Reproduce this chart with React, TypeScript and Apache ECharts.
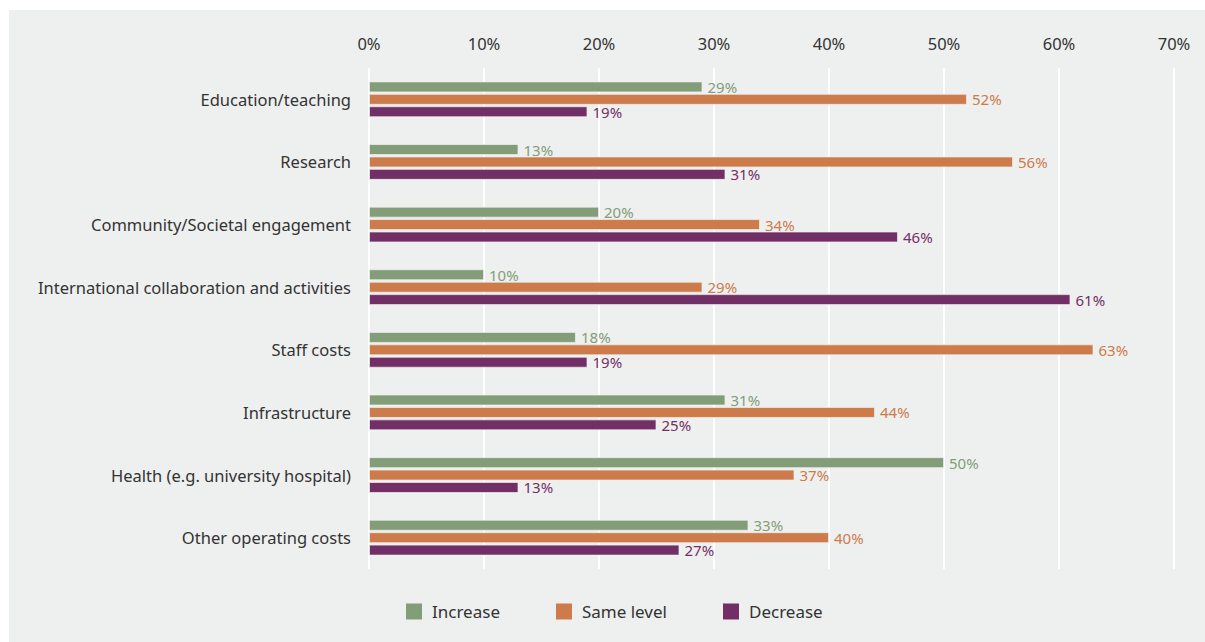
import React, { useEffect, useRef } from "react";
import * as echarts from "echarts";

const categories = [
  "Education/teaching",
  "Research",
  "Community/Societal engagement",
  "International collaboration and activities",
  "Staff costs",
  "Infrastructure",
  "Health (e.g. university hospital)",
  "Other operating costs",
];
const increase = [29, 13, 20, 10, 18, 31, 50, 33];
const sameLevel = [52, 56, 34, 29, 63, 44, 37, 40];
const decrease = [19, 31, 46, 61, 19, 25, 13, 27];
const seriesNames = ["Increase", "Same level", "Decrease"];
const colors = ["#849d79", "#cd7b4a", "#722f66"];

const FONT = "'Noto Sans', sans-serif";

export default function App() {
  const ref = useRef<HTMLDivElement>(null);
  useEffect(() => {
    if (!ref.current) return;
    const chart = echarts.init(ref.current, undefined, { renderer: "svg" });
    const data = [increase, sameLevel, decrease];
    chart.setOption({
      animation: false,
      backgroundColor: "#ffffff",
      textStyle: { fontFamily: FONT },
      graphic: [
        {
          type: "rect",
          left: 9,
          top: 10,
          shape: { width: 1196, height: 632 },
          style: { fill: "#eef0ef" },
          z: -10,
          silent: true,
        },
      ],
      grid: { left: 369, right: 31, top: 68, bottom: 73, containLabel: false },
      legend: {
        left: 406,
        top: 603,
        padding: 0,
        itemWidth: 16,
        itemHeight: 16,
        itemGap: 56,
        icon: "rect",
        itemStyle: { borderWidth: 0, borderColor: "transparent" },
        textStyle: { fontSize: 17, color: "#333333", fontFamily: FONT, padding: [0, 0, 0, 5] },
        data: seriesNames,
      },
      xAxis: {
        type: "value",
        position: "top",
        min: 0,
        max: 70,
        interval: 10,
        axisLine: { show: false },
        axisTick: { show: false },
        axisLabel: {
          formatter: "{value}%",
          fontSize: 16.5,
          color: "#333333",
          margin: 16,
          fontFamily: FONT,
        },
        splitLine: { show: true, lineStyle: { color: "#ffffff", width: 2 } },
      },
      yAxis: {
        type: "category",
        inverse: true,
        data: categories,
        axisLine: { show: false },
        axisTick: { show: false },
        axisLabel: { fontSize: 16.5, color: "#333333", margin: 18, fontFamily: FONT },
        splitLine: { show: false },
      },
      series: seriesNames.map((name, i) => ({
        name,
        type: "bar",
        data: data[i],
        barWidth: 11,
        barGap: "13%",
        itemStyle: { color: colors[i], borderColor: "rgba(238,240,239,0.7)", borderWidth: 1 },
        label: {
          show: true,
          position: "right",
          distance: 5,
          formatter: "{c}%",
          fontSize: 15,
          color: colors[i],
          fontFamily: FONT,
        },
      })),
    });
    return () => chart.dispose();
  }, []);
  return (
    <div style={{ position: "fixed", left: 0, top: 0, width: 1205, height: 642 }}>
      <div ref={ref} style={{ width: 1205, height: 642 }} />
    </div>
  );
}
